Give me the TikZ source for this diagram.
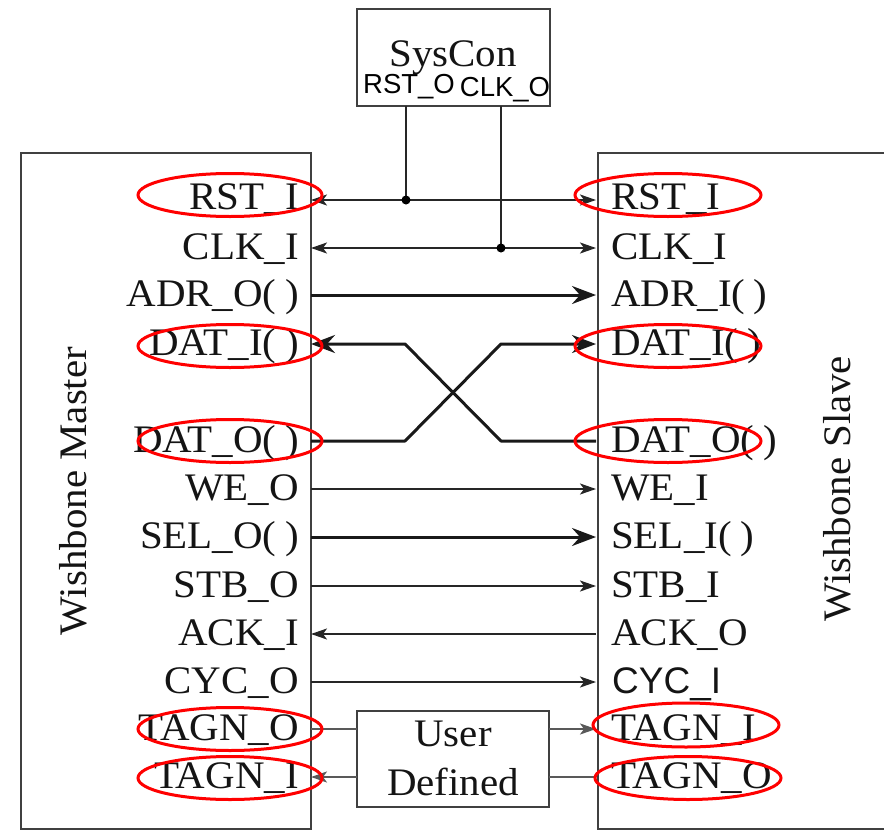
\documentclass[tikz,border=0pt]{standalone}
\usepackage{fontspec}
\setmainfont[FakeStretch=1.05]{Liberation Serif}
\newfontfamily\sansf{Liberation Sans}
\usetikzlibrary{arrows.meta}
\newcommand{\pargap}{(\kern0.22em)}
\begin{document}
\begin{tikzpicture}[x=1pt,y=-1pt,
  box/.style={draw=black!75, line width=2.4pt, inner sep=0pt},
  lbl/.style={font=\fontsize{39}{44}\selectfont, inner sep=0pt, text=black!92},
  slbl/.style={font=\sansf\fontsize{27.5}{30}\selectfont, inner sep=0pt, text=black},
  wire/.style={line width=1.9pt, draw=black!85},
  bus/.style={line width=3pt, draw=black!90},
  uwire/.style={line width=2.2pt, draw=black!65},
  ta/.tip={Stealth[length=16pt,width=11pt,inset=4pt]},
  tb/.tip={Stealth[length=24pt,width=18pt,inset=8pt]},
  hl/.style={draw=red, line width=3pt},
  jdot/.style={fill=black}]
\useasboundingbox (0,0) rectangle (884,830);

% boxes
\node[box, anchor=north west, minimum width=290pt, minimum height=676pt] (master) at (20,152) {};
\node[box, anchor=north west, minimum width=330pt, minimum height=676pt] (slave) at (597,152) {};
\node[box, minimum width=193pt, minimum height=97pt] (syscon) at (453.5,57.5) {};
\node[box, minimum width=192pt, minimum height=96pt] (user) at (453,759) {};

% box texts
\node[lbl] (sctext) at (453,58) {SysCon};
\node[slbl] (rsto) at (409,87) {RST\_O};
\node[slbl] (clko) at (505,90) {CLK\_O};
\node[lbl, align=center, font=\fontsize{39}{49}\selectfont] (utext) at (453,758) {User\\Defined};
\node[lbl, rotate=90] (mtitle) at (73,491) {Wishbone Master};
\node[lbl, rotate=90] (stitle) at (837,489) {Wishbone Slave};

% master labels
\node[lbl, anchor=base east] (lRST) at (299,209) {RST\_I};
\node[lbl, anchor=base east] (lCLK) at (299,259) {CLK\_I};
\node[lbl, anchor=base east] (lADR) at (299,306) {ADR\_O\pargap};
\node[lbl, anchor=base east] (lDI) at (299,355) {DAT\_I\pargap};
\node[lbl, anchor=base east] (lDO) at (299,452) {DAT\_O\pargap};
\node[lbl, anchor=base east] (lWE) at (299,500) {WE\_O};
\node[lbl, anchor=base east] (lSEL) at (299,548) {SEL\_O\pargap};
\node[lbl, anchor=base east] (lSTB) at (299,597) {STB\_O};
\node[lbl, anchor=base east] (lACK) at (299,645) {ACK\_I};
\node[lbl, anchor=base east] (lCYC) at (299,693) {CYC\_O};
\node[lbl, anchor=base east] (lTO) at (299,740) {TAGN\_O};
\node[lbl, anchor=base east] (lTI) at (299,788) {TAGN\_I};

% slave labels
\node[lbl, anchor=base west] (rRST) at (611,209) {RST\_I};
\node[lbl, anchor=base west] (rCLK) at (611,259) {CLK\_I};
\node[lbl, anchor=base west] (rADR) at (611,306) {ADR\_I\pargap};
\node[lbl, anchor=base west] (rDI) at (611,355) {DAT\_I\pargap};
\node[lbl, anchor=base west] (rDO) at (611,452) {DAT\_O\pargap};
\node[lbl, anchor=base west] (rWE) at (611,500) {WE\_I};
\node[lbl, anchor=base west] (rSEL) at (611,548) {SEL\_I\pargap};
\node[lbl, anchor=base west] (rSTB) at (611,597) {STB\_I};
\node[lbl, anchor=base west] (rACK) at (611,645) {ACK\_O};
\node[lbl, anchor=base west, font=\sansf\fontsize{37}{40}\selectfont] (rCYC) at (612,693) {CYC\_I};
\node[lbl, anchor=base west] (rTI) at (611,740) {TAGN\_I};
\node[lbl, anchor=base west] (rTO) at (611,788) {TAGN\_O};

% pin coordinates
\coordinate (mRST) at (311,200);  \coordinate (sRST) at (596,200);
\coordinate (mCLK) at (311,248);  \coordinate (sCLK) at (596,248);
\coordinate (mADR) at (311,295);  \coordinate (sADR) at (596,295);
\coordinate (mDI) at (311,344);   \coordinate (sDI) at (596,344);
\coordinate (mDO) at (311,441);   \coordinate (sDO) at (596,441);
\coordinate (mWE) at (311,489);   \coordinate (sWE) at (596,489);
\coordinate (mSEL) at (311,537);  \coordinate (sSEL) at (596,537);
\coordinate (mSTB) at (311,586);  \coordinate (sSTB) at (596,586);
\coordinate (mACK) at (311,634);  \coordinate (sACK) at (596,634);
\coordinate (mCYC) at (311,682);  \coordinate (sCYC) at (596,682);
\coordinate (mTO) at (311,729);   \coordinate (sTI) at (596,729);
\coordinate (mTI) at (311,777);   \coordinate (sTO) at (596,777);
\coordinate (uTOl) at (357,729);  \coordinate (uTOr) at (549,729);
\coordinate (uTIl) at (357,777);  \coordinate (uTIr) at (549,777);
\coordinate (scR) at (406,106);   \coordinate (jR) at (406,200);
\coordinate (scC) at (501,106);   \coordinate (jC) at (501,248);
\coordinate (bA) at (405,344);    \coordinate (bB) at (501,441);
\coordinate (bC) at (405,441);    \coordinate (bD) at (501,344);

% connectors
\draw[wire, {ta}-{ta}] (mRST) -- (sRST);
\draw[wire, {ta}-{ta}] (mCLK) -- (sCLK);
\draw[wire] (scR) -- (jR);
\draw[wire] (scC) -- (jC);
\fill[jdot] (jR) circle (4.5pt);
\fill[jdot] (jC) circle (4.5pt);
\draw[bus, -{tb}] (mADR) -- (sADR);
\draw[bus, line join=round, {tb}-] (mDI) -- (bA) -- (bB) -- (sDO);
\draw[bus, line join=round, -{tb}] (mDO) -- (bC) -- (bD) -- (sDI);
\draw[wire, -{ta}] (mWE) -- (sWE);
\draw[bus, -{tb}] (mSEL) -- (sSEL);
\draw[wire, -{ta}] (mSTB) -- (sSTB);
\draw[wire, {ta}-] (mACK) -- (sACK);
\draw[wire, -{ta}] (mCYC) -- (sCYC);
\draw[uwire] (mTO) -- (uTOl);
\draw[uwire, -{ta}] (uTOr) -- (sTI);
\draw[uwire, {ta}-] (mTI) -- (uTIl);
\draw[uwire] (uTIr) -- (sTO);

% red highlights
\draw[hl] (230,195) ellipse [x radius=92pt, y radius=21.5pt];
\draw[hl] (230,346) ellipse [x radius=92pt, y radius=21.5pt];
\draw[hl] (230,441) ellipse [x radius=92pt, y radius=21.5pt];
\draw[hl] (230,729) ellipse [x radius=92pt, y radius=21.5pt];
\draw[hl] (230,778) ellipse [x radius=92pt, y radius=21.5pt];
\draw[hl] (668,195) ellipse [x radius=93pt, y radius=21.5pt];
\draw[hl] (668,346) ellipse [x radius=93pt, y radius=21.5pt];
\draw[hl] (668,441) ellipse [x radius=93pt, y radius=21.5pt];
\draw[hl] (686,725) ellipse [x radius=93pt, y radius=22pt];
\draw[hl] (688,778) ellipse [x radius=93pt, y radius=21.5pt];
\end{tikzpicture}
\end{document}
